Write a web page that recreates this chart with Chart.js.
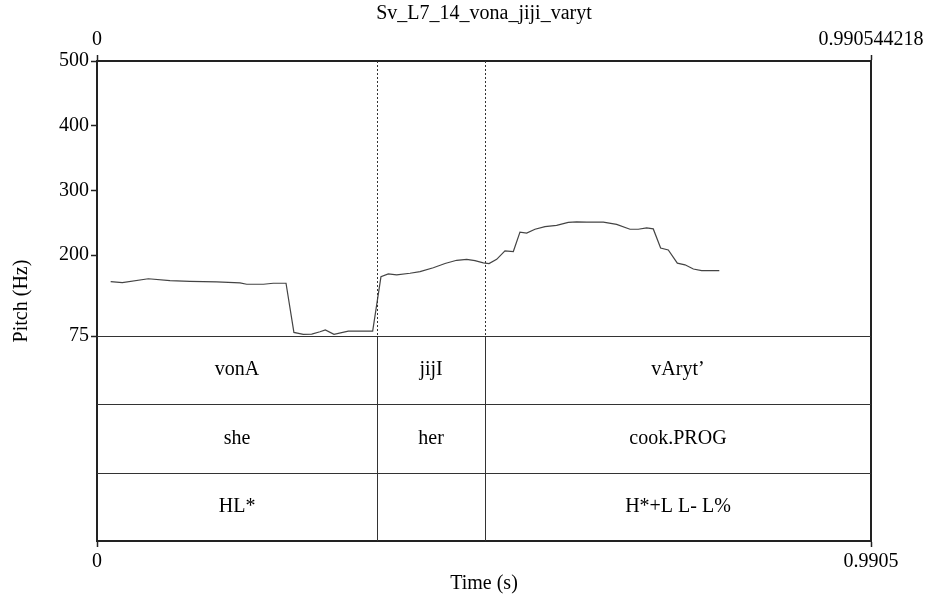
<!DOCTYPE html>
<html>
<head>
<meta charset="utf-8">
<script src="https://cdn.jsdelivr.net/npm/chart.js@4/dist/chart.umd.min.js"></script>
<style>
  html, body { margin: 0; padding: 0; background: #fff; }
  canvas { display: block; }
</style>
</head>
<body>
<canvas id="pitch" width="930" height="596"></canvas>
<script>
// recording / axis data
const chartTitle = 'Sv_L7_14_vona_jiji_varyt';
const timeEnd = 0.990544218;
const pitchMin = 75;
const pitchMax = 500;
const pitchTicks = [75, 200, 300, 400, 500];

// pitch contour (s, Hz)
const pitchTimes = [0.0175, 0.0324, 0.0657, 0.0934, 0.119, 0.153, 0.183, 0.1916, 0.213, 0.2256,
    0.2419, 0.252, 0.264, 0.2748, 0.2854, 0.2922, 0.3033, 0.3216, 0.3528, 0.3634,
    0.3728, 0.3835, 0.4006, 0.4134, 0.4304, 0.4454, 0.4603, 0.4731, 0.4837, 0.4944,
    0.5017, 0.5115, 0.5221, 0.5328, 0.5413, 0.5499, 0.5605, 0.5733, 0.5882, 0.6031,
    0.6138, 0.6266, 0.648, 0.665, 0.6821, 0.6927, 0.7034, 0.7119, 0.7213, 0.7311,
    0.7427, 0.7525, 0.7632, 0.7738, 0.7964];
const pitchValues = [159, 157.5, 163.5, 160.5, 159.5, 158.5, 157, 155, 155, 156.5,
    156.5, 80.5, 77.5, 78, 81.5, 84.5, 77.5, 82.5, 82.5, 166.5,
    171, 169.5, 172, 174.5, 180.5, 187, 192, 193.5, 191.5, 188,
    187, 193.5, 206.5, 205.5, 235.5, 234, 240, 244, 246, 250.5,
    251.5, 251, 251, 247.5, 240, 240, 242, 240.5, 211, 208,
    187.5, 185, 178.5, 176, 176];

// textgrid
const boundaries = [0.3585, 0.4965];
const words = ['vonA', 'jijI', 'vAryt\u2019'];
const glosses = ['she', 'her', 'cook.PROG'];
const tones = ['HL*', '', 'H*+L L- L%'];
const tiers = [words, glosses, tones];

// the tiers hang below the pitch panel on the same vertical scale
const tierShare = 205 / 275;
const yMin = pitchMin - (pitchMax - pitchMin) * tierShare;

const font = { family: 'Liberation Serif', size: 20 };
const ink = '#222';
const text = '#000';

const tierGrid = {
    id: 'tierGrid',
    afterDatasetsDraw(chart) {
        const { ctx, chartArea: a, scales: { x, y } } = chart;
        const top = y.getPixelForValue(pitchMin);
        const rowH = (a.bottom - top) / tiers.length;
        ctx.save();
        ctx.strokeStyle = '#333';
        ctx.lineWidth = 1;
        for (let i = 0; i < tiers.length; i++) {
            const py = Math.round(top + i * rowH) + 0.5;
            ctx.beginPath();
            ctx.moveTo(a.left, py);
            ctx.lineTo(a.right, py);
            ctx.stroke();
        }
        boundaries.forEach(b => {
            const px = Math.round(x.getPixelForValue(b)) + 0.5;
            ctx.setLineDash([2, 2]);
            ctx.beginPath();
            ctx.moveTo(px, a.top);
            ctx.lineTo(px, top);
            ctx.stroke();
            ctx.setLineDash([]);
            ctx.beginPath();
            ctx.moveTo(px, top);
            ctx.lineTo(px, a.bottom);
            ctx.stroke();
        });
        const edges = [0, ...boundaries, timeEnd];
        ctx.fillStyle = text;
        ctx.font = font.size + 'px ' + font.family;
        ctx.textAlign = 'center';
        ctx.textBaseline = 'middle';
        tiers.forEach((row, r) => {
            row.forEach((txt, i) => {
                if (!txt) return;
                const cx = (x.getPixelForValue(edges[i]) + x.getPixelForValue(edges[i + 1])) / 2;
                ctx.fillText(txt, cx, top + (r + 0.5) * rowH);
            });
        });
        ctx.restore();
    }
};

new Chart(document.getElementById('pitch'), {
    type: 'line',
    data: {
        datasets: [{
            data: pitchTimes.map((t, i) => ({ x: t, y: pitchValues[i] })),
            borderColor: '#444',
            borderWidth: 1.2,
            pointRadius: 0,
            tension: 0
        }]
    },
    options: {
        responsive: false,
        animation: false,
        layout: { padding: 0 },
        plugins: {
            legend: { display: false },
            tooltip: { enabled: false }
        },
        scales: {
            x: {
                type: 'linear',
                position: 'bottom',
                min: 0,
                max: timeEnd,
                afterBuildTicks: s => { s.ticks = [{ value: 0 }, { value: timeEnd }]; },
                afterFit: s => { s.height = 55; },
                ticks: {
                    font: font,
                    color: text,
                    padding: 3,
                    maxRotation: 0,
                    autoSkip: false,
                    callback: v => v === 0 ? '0' : v.toFixed(4)
                },
                grid: { drawOnChartArea: false, tickLength: 6, tickWidth: 1.5, color: ink },
                border: { color: ink, width: 2 },
                title: { display: true, text: 'Time (s)', font: font, color: text, padding: { top: 0, bottom: 0 } }
            },
            x2: {
                type: 'linear',
                position: 'top',
                min: 0,
                max: timeEnd,
                afterBuildTicks: s => { s.ticks = [{ value: 0 }, { value: timeEnd }]; },
                afterFit: s => { s.height = 61; },
                ticks: {
                    font: font,
                    color: text,
                    padding: 3,
                    maxRotation: 0,
                    autoSkip: false,
                    callback: v => v === 0 ? '0' : String(timeEnd)
                },
                grid: { drawOnChartArea: false, tickLength: 6, tickWidth: 1.5, color: ink },
                border: { color: ink, width: 2 },
                title: { display: true, text: chartTitle, font: font, color: text, padding: { top: 2, bottom: 0 } }
            },
            y: {
                type: 'linear',
                position: 'left',
                min: yMin,
                max: pitchMax,
                afterBuildTicks: s => { s.ticks = pitchTicks.map(v => ({ value: v })); },
                afterFit: s => { s.width = 97; },
                ticks: { font: font, color: text, padding: 2, autoSkip: false },
                grid: { drawOnChartArea: false, tickLength: 6, tickWidth: 1.5, color: ink },
                border: { color: ink, width: 2 },
                title: { display: true, text: 'Pitch (Hz)', font: font, color: text, padding: { top: 10, bottom: 0 } }
            },
            y2: {
                type: 'linear',
                position: 'right',
                min: yMin,
                max: pitchMax,
                afterFit: s => { s.width = 59; },
                ticks: { display: false },
                grid: { display: false },
                border: { display: true, color: ink, width: 2 }
            }
        }
    },
    plugins: [tierGrid]
});
</script>
</body>
</html>
